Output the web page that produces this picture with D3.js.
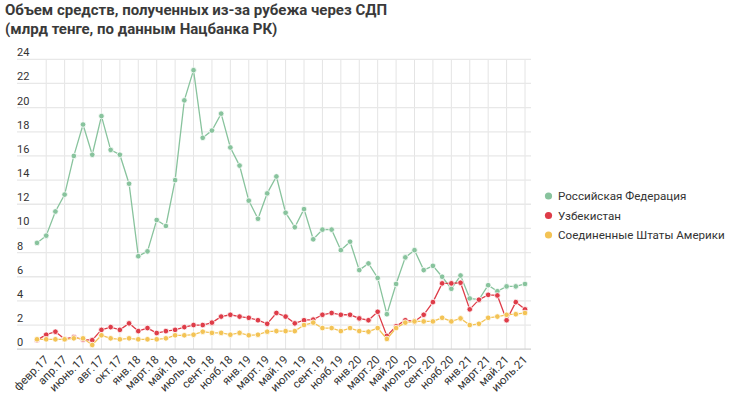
<!DOCTYPE html>
<html>
<head>
<meta charset="utf-8">
<script src="https://cdn.jsdelivr.net/npm/d3@7"></script>
<style>
  body { margin: 0; background: #fff; }
  svg { font-family: Roboto, 'Noto Sans', sans-serif; }
</style>
</head>
<body>
<svg id="chart" width="730" height="399"></svg>
<script>
// months (Nov 2017 absent in source)
var months = ['янв.17', 'февр.17', 'март.17', 'апр.17', 'май.17', 'июнь.17', 'июль.17', 'авг.17', 'сент.17', 'окт.17',
	'дек.17', 'янв.18', 'февр.18', 'март.18', 'апр.18', 'май.18', 'июнь.18', 'июль.18', 'авг.18', 'сент.18',
	'окт.18', 'нояб.18', 'дек.18', 'янв.19', 'февр.19', 'март.19', 'апр.19', 'май.19', 'июнь.19', 'июль.19',
	'авг.19', 'сент.19', 'окт.19', 'нояб.19', 'дек.19', 'янв.20', 'февр.20', 'март.20', 'апр.20', 'май.20',
	'июнь.20', 'июль.20', 'авг.20', 'сент.20', 'окт.20', 'нояб.20', 'дек.20', 'янв.21', 'февр.21', 'март.21',
	'апр.21', 'май.21', 'июнь.21', 'июль.21'];

var russia = [8.8, 9.4, 11.4, 12.8, 16.0, 18.6, 16.1, 19.3, 16.5, 16.1,
	13.7, 7.7, 8.1, 10.7, 10.2, 14.0, 20.6, 23.1, 17.5, 18.1,
	19.5, 16.7, 15.2, 12.3, 10.8, 12.9, 14.3, 11.3, 10.1, 11.6,
	9.1, 9.9, 9.9, 8.2, 8.9, 6.55, 7.1, 5.9, 2.9, 5.4,
	7.6, 8.2, 6.55, 6.9, 6.0, 5.0, 6.1, 4.2, 4.1, 5.3,
	4.8, 5.2, 5.2, 5.4];

var uzbekistan = [0.75, 1.2, 1.45, 0.85, 1.0, 0.8, 0.75, 1.6, 1.83, 1.6,
	2.14, 1.5, 1.75, 1.34, 1.5, 1.6, 1.83, 2.0, 2.0, 2.2,
	2.7, 2.85, 2.7, 2.6, 2.4, 2.1, 3.0, 2.7, 2.14, 2.4,
	2.45, 2.85, 3.0, 2.85, 2.85, 2.55, 2.4, 3.1, 1.1, 1.9,
	2.4, 2.3, 2.85, 3.9, 5.45, 5.45, 5.5, 3.3, 4.1, 4.5,
	4.45, 2.4, 3.9, 3.3];

var usa = [0.82, 0.82, 0.82, 0.82, 0.9, 0.9, 0.35, 1.15, 0.9, 0.82,
	0.9, 0.82, 0.82, 0.82, 0.9, 1.15, 1.15, 1.2, 1.45, 1.35,
	1.35, 1.2, 1.35, 1.15, 1.2, 1.45, 1.5, 1.5, 1.5, 2.0,
	2.2, 1.75, 1.75, 1.5, 1.75, 1.5, 1.45, 1.75, 0.85, 1.75,
	2.2, 2.3, 2.3, 2.3, 2.6, 2.3, 2.55, 2.0, 2.1, 2.6,
	2.7, 2.85, 2.9, 3.0];

var seriesNames = ['Российская Федерация', 'Узбекистан', 'Соединенные Штаты Америки'];
var seriesColors = ['#88c39d', '#de3c48', '#f3c355'];
var yTicks = [0, 2, 4, 6, 8, 10, 12, 14, 16, 18, 20, 22, 24];

var svg = d3.select('#chart');

svg.append('text')
	.attr('x', 5)
	.attr('y', 15)
	.text('Объем средств, полученных из-за рубежа через СДП')
	.style('font-size', '15px')
	.style('font-weight', 'bold')
	.style('fill', '#3a3a3a');

svg.append('text')
	.attr('x', 5)
	.attr('y', 34)
	.text('(млрд тенге, по данным Нацбанка РК)')
	.style('font-size', '15px')
	.style('font-weight', 'bold')
	.style('fill', '#3a3a3a');

var x = d3.scalePoint()
	.domain(months)
	.range([37, 525]);

var y = d3.scaleLinear()
	.domain([0, 24])
	.range([349.2, 59.3]);

var grid = svg.append('g');

// vertical grid every second month
var labelled = months.filter(function (m, i) { return i % 2 === 1; });

grid.selectAll('line.v')
	.data(labelled)
	.enter()
	.append('line')
	.attr('class', 'v')
	.attr('x1', function (d) { return x(d); })
	.attr('x2', function (d) { return x(d); })
	.attr('y1', y(24))
	.attr('y2', y(0))
	.style('stroke', '#e4e4e4')
	.style('stroke-width', 1);

grid.selectAll('line.h')
	.data(yTicks)
	.enter()
	.append('line')
	.attr('class', 'h')
	.attr('x1', 17)
	.attr('x2', 531)
	.attr('y1', function (d) { return y(d); })
	.attr('y2', function (d) { return y(d); })
	.style('stroke', function (d) { return d === 0 ? '#d0d0d0' : '#e8e8e8'; })
	.style('stroke-width', 1.3);

grid.selectAll('text.y')
	.data(yTicks)
	.enter()
	.append('text')
	.attr('class', 'y')
	.attr('x', 17)
	.attr('y', function (d) { return y(d) - 3; })
	.text(function (d) { return d; })
	.style('font-size', '11px')
	.style('fill', '#333');

grid.selectAll('text.x')
	.data(labelled)
	.enter()
	.append('text')
	.attr('class', 'x')
	.attr('transform', function (d) { return 'translate(' + (x(d) + 3) + ',360.5) rotate(-45)'; })
	.attr('text-anchor', 'end')
	.text(function (d) { return d; })
	.style('font-size', '11.5px')
	.style('fill', '#333');

var line = d3.line()
	.x(function (d, i) { return x(months[i]); })
	.y(function (d) { return y(d); });

[russia, uzbekistan, usa].forEach(function (values, k) {
	var g = svg.append('g');

	g.append('path')
		.datum(values)
		.attr('d', line)
		.style('fill', 'none')
		.style('stroke', seriesColors[k])
		.style('stroke-width', 1.3);

	g.selectAll('circle')
		.data(values)
		.enter()
		.append('circle')
		.attr('cx', function (d, i) { return x(months[i]); })
		.attr('cy', function (d) { return y(d); })
		.attr('r', 2.8)
		.style('fill', seriesColors[k])
		.style('stroke', '#fff')
		.style('stroke-width', 0.8);
});

// legend
var legend = svg.append('g');

seriesNames.forEach(function (name, k) {
	legend.append('circle')
		.attr('cx', 548.5)
		.attr('cy', 196 + k * 19.5)
		.attr('r', 3.6)
		.style('fill', seriesColors[k]);

	legend.append('text')
		.attr('x', 558)
		.attr('y', 200 + k * 19.5)
		.text(name)
		.style('font-size', '11.6px')
		.style('fill', '#333');
});
</script>
</body>
</html>
